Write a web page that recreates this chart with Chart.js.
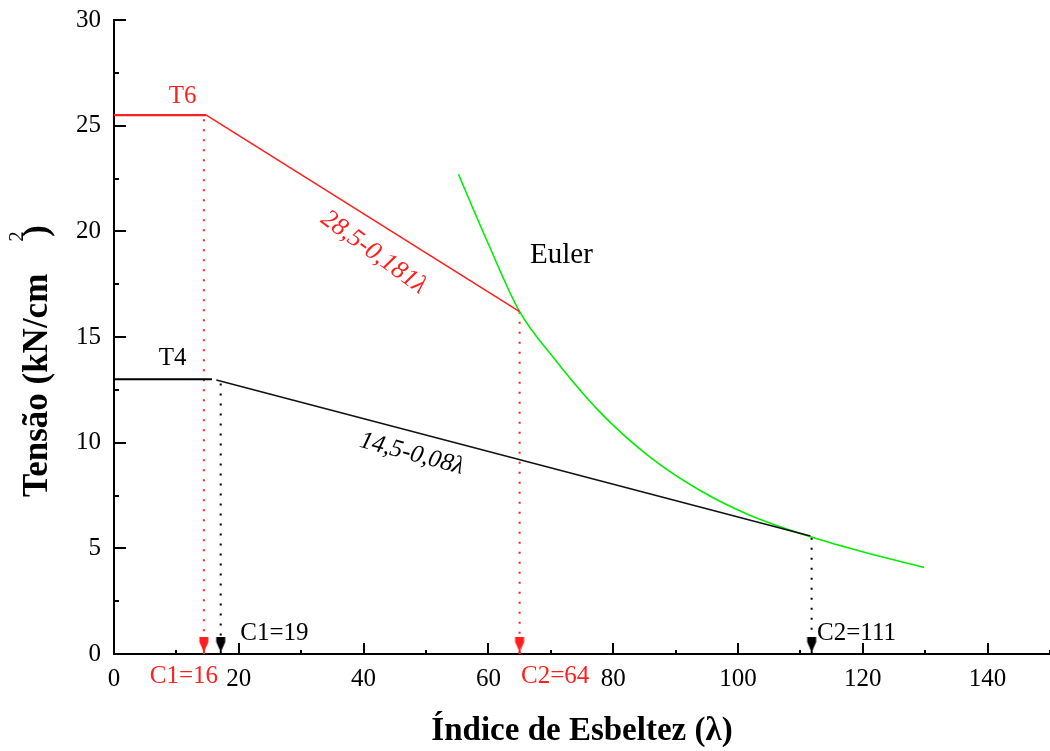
<!DOCTYPE html>
<html>
<head>
<meta charset="utf-8">
<script src="https://cdn.jsdelivr.net/npm/chart.js@4/dist/chart.umd.min.js"></script>
<style>
  html, body { margin: 0; padding: 0; background: #fff; }
  #wrap { width: 1050px; height: 751px; position: relative; }
</style>
</head>
<body>
<div id="wrap"><canvas id="chart"></canvas></div>
<script>
// T6: plateau then 28,5-0,181λ until it meets Euler
const t6Lambda = [0, 14.8, 65];
const t6Stress = [25.5, 25.5, 16.2];

// T4: plateau, then 14,5-0,08λ
const t4FlatLambda = [0, 15.7];
const t4FlatStress = [13, 13];
const t4SlopeLambda = [16.4, 111.6];
const t4SlopeStress = [12.97, 5.58];

// Euler curve
const eulerLambda = [55.2, 60, 65, 70.6, 77.8, 85.8, 93.8, 101.8, 111.9, 120.4, 129.8];
const eulerStress = [22.7, 19.4, 16.2, 13.96, 11.47, 9.34, 7.76, 6.58, 5.52, 4.8, 4.1];

// limits C1 / C2 (dotted drops down to the axis)
const dropLambda = [14.4, 17.1, 65, 111.8];
const dropTop = [25.3, 12.8, 16.2, 5.5];

const xTicks = [0, 20, 40, 60, 80, 100, 120, 140];
const yTicks = [0, 5, 10, 15, 20, 25, 30];

// text notes, anchored in data units
const noteTexts = ['T6', 'T4', '28,5-0,181λ', '14,5-0,08λ', 'Euler', 'C1=19', 'C1=16', 'C2=64', 'C2=111'];
const noteLambda = [11, 9.4, 41.6, 47.7, 71.7, 25.7, 11.2, 70.7, 119];
const noteStress = [26.36, 14.0, 19.0, 9.47, 18.88, 0.95, -1.04, -1.04, 0.95];

const RED = '#ff1f1f';
const GREEN = '#00ee00';
const SERIF = '"Liberation Serif", "DejaVu Serif", serif';

const noteStyle = [
    { color: RED, font: '25px ' + SERIF, angle: 0 },
    { color: '#000', font: '25px ' + SERIF, angle: 0 },
    { color: RED, font: 'italic 26px ' + SERIF, angle: 36 },
    { color: '#000', font: 'italic 25px ' + SERIF, angle: 15 },
    { color: '#000', font: '29px ' + SERIF, angle: 0 },
    { color: '#000', font: '25px ' + SERIF, angle: 0 },
    { color: RED, font: '25px ' + SERIF, angle: 0 },
    { color: RED, font: '25px ' + SERIF, angle: 0 },
    { color: '#000', font: '25px ' + SERIF, angle: 0 }
];
const dropColors = [RED, '#000', RED, '#000'];

const pts = (xs, ys) => xs.map((v, i) => ({ x: v, y: ys[i] }));

// little flag marker: bar + wedge, tip on the point (centre of the canvas)
function makeMarker(color) {
    const c = document.createElement('canvas');
    c.width = 12;
    c.height = 36;
    const g = c.getContext('2d');
    g.fillStyle = color;
    g.fillRect(1.5, 1, 9, 5);
    g.beginPath();
    g.moveTo(1.5, 6);
    g.lineTo(10.5, 6);
    g.lineTo(7, 14);
    g.lineTo(7, 18);
    g.lineTo(5, 18);
    g.lineTo(5, 14);
    g.closePath();
    g.fill();
    return c;
}
const markers = dropColors.map(makeMarker);

const datasets = [
    {
        data: pts(t6Lambda, t6Stress),
        borderColor: RED,
        borderWidth: 1.6,
        segment: { borderWidth: c => c.p0DataIndex === 0 ? 2.2 : 1.6 }
    },
    { data: pts(t4FlatLambda, t4FlatStress), borderColor: '#000', borderWidth: 2 },
    { data: pts(t4SlopeLambda, t4SlopeStress), borderColor: '#111', borderWidth: 1.6 },
    { data: pts(eulerLambda, eulerStress), borderColor: GREEN, borderWidth: 1.6, tension: 0.4, cubicInterpolationMode: 'monotone' }
];

dropLambda.forEach((l, i) => {
    datasets.push({
        data: [{ x: l, y: dropTop[i] }, { x: l, y: 0 }],
        borderColor: dropColors[i],
        borderWidth: 2,
        borderDash: [2, 8]
    });
});

datasets.push({
    data: dropLambda.map(l => ({ x: l, y: 0 })),
    showLine: false,
    pointRadius: 6,
    pointStyle: c => markers[c.dataIndex],
    clip: false
});

const axisDecor = {
    id: 'axisDecor',
    afterDraw(chart) {
        const { ctx, scales: { x, y } } = chart;
        ctx.save();

        // inward ticks
        ctx.strokeStyle = '#000';
        ctx.lineWidth = 2;
        ctx.beginPath();
        for (let v = 0; v <= 150; v += 10) {
            const px = Math.round(x.getPixelForValue(v));
            const len = v % 20 === 0 ? 11 : 4;
            ctx.moveTo(px, y.bottom);
            ctx.lineTo(px, y.bottom - len);
        }
        for (let v = 0; v <= 30; v += 2.5) {
            const py = Math.round(y.getPixelForValue(v));
            const len = v % 5 === 0 ? 12 : 5;
            ctx.moveTo(x.left, py);
            ctx.lineTo(x.left + len, py);
        }
        ctx.stroke();

        // x title
        ctx.fillStyle = '#000';
        ctx.font = 'bold 33px ' + SERIF;
        ctx.textAlign = 'center';
        ctx.textBaseline = 'alphabetic';
        ctx.fillText('Índice de Esbeltez (λ)', (x.left + x.right) / 2, 740);

        // y title with the odd superscript
        ctx.translate(47, 497);
        ctx.rotate(-Math.PI / 2);
        ctx.textAlign = 'left';
        ctx.font = 'bold 35px ' + SERIF;
        const main = 'Tensão (kN/cm';
        ctx.fillText(main, 0, 0);
        const w = ctx.measureText(main).width;
        ctx.font = '21px ' + SERIF;
        ctx.fillText('2', w + 32, -24);
        ctx.font = 'bold 35px ' + SERIF;
        ctx.fillText(')', w + 37, 0);
        ctx.restore();

        // notes
        noteTexts.forEach((t, i) => {
            const s = noteStyle[i];
            ctx.save();
            ctx.translate(x.getPixelForValue(noteLambda[i]), y.getPixelForValue(noteStress[i]));
            ctx.rotate(s.angle * Math.PI / 180);
            ctx.font = s.font;
            ctx.fillStyle = s.color;
            ctx.textAlign = 'center';
            ctx.textBaseline = 'middle';
            ctx.fillText(t, 0, 0);
            ctx.restore();
        });
    }
};

new Chart(document.getElementById('chart'), {
    type: 'scatter',
    data: { datasets: datasets.map(d => Object.assign({ showLine: true, pointRadius: 0, fill: false }, d)) },
    options: {
        responsive: true,
        maintainAspectRatio: false,
        animation: false,
        events: [],
        layout: { autoPadding: false, padding: { top: 20, left: 0, right: 0, bottom: 0 } },
        plugins: { legend: { display: false }, tooltip: { enabled: false } },
        scales: {
            x: {
                type: 'linear',
                min: 0,
                max: 150,
                grid: { display: false, drawTicks: false },
                border: { color: '#000', width: 2 },
                afterBuildTicks: s => { s.ticks = xTicks.map(v => ({ value: v })); },
                ticks: {
                    autoSkip: false,
                    maxRotation: 0,
                    padding: 10,
                    color: '#000',
                    font: { family: SERIF, size: 25 }
                },
                afterFit: s => {
                    s.height = 97;
                    s.paddingLeft = 0;
                    s.paddingRight = 0;
                }
            },
            y: {
                type: 'linear',
                min: 0,
                max: 30,
                grid: { display: false, drawTicks: false },
                border: { color: '#000', width: 2 },
                afterBuildTicks: s => { s.ticks = yTicks.map(v => ({ value: v })); },
                ticks: {
                    padding: 13,
                    color: '#000',
                    font: { family: SERIF, size: 25 }
                },
                afterFit: s => {
                    s.width = 114;
                    s.paddingTop = 0;
                    s.paddingBottom = 0;
                }
            }
        }
    },
    plugins: [axisDecor]
});
</script>
</body>
</html>
